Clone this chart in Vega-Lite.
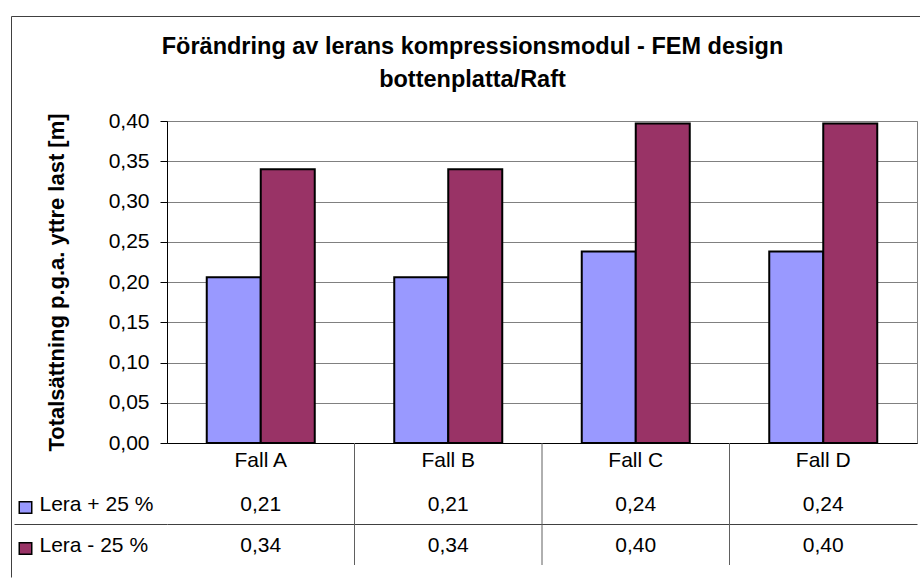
{
  "$schema": "https://vega.github.io/schema/vega-lite/v6.json",
  "background": "white",
  "padding": {"left": 10, "top": 15, "right": 0, "bottom": 0},
  "autosize": {"type": "pad"},
  "bounds": "flush",
  "spacing": 0,
  "title": {
    "text": ["Förändring av lerans kompressionsmodul - FEM design", "bottenplatta/Raft"],
    "fontSize": 23.5, "fontWeight": "bold", "font": "Liberation Sans", "color": "black",
    "lineHeight": 33, "anchor": "middle", "offset": -76, "dx": -71
  },
  "datasets": {
    "d": [
      {"cat": "Fall A", "series": "Lera + 25 %", "v": 0.206},
      {"cat": "Fall A", "series": "Lera - 25 %", "v": 0.34},
      {"cat": "Fall B", "series": "Lera + 25 %", "v": 0.206},
      {"cat": "Fall B", "series": "Lera - 25 %", "v": 0.34},
      {"cat": "Fall C", "series": "Lera + 25 %", "v": 0.238},
      {"cat": "Fall C", "series": "Lera - 25 %", "v": 0.397},
      {"cat": "Fall D", "series": "Lera + 25 %", "v": 0.238},
      {"cat": "Fall D", "series": "Lera - 25 %", "v": 0.397}
    ]
  },
  "vconcat": [
    {
      "width": 750,
      "height": 322,
      "view": {"stroke": "#808080", "strokeWidth": 1},
      "resolve": {"scale": {"x": "independent", "y": "independent"}, "axis": {"x": "independent", "y": "independent"}},
      "layer": [
        {
          "data": {"name": "d"},
          "mark": {"type": "bar", "stroke": "black", "strokeWidth": 2},
          "encoding": {
            "x": {
              "field": "cat", "type": "nominal", "sort": ["Fall A", "Fall B", "Fall C", "Fall D"],
              "scale": {"paddingInner": 0, "paddingOuter": 0},
              "axis": {"orient": "bottom", "labels": false, "ticks": false, "domain": true, "domainColor": "black", "domainWidth": 1, "title": null, "grid": false}
            },
            "xOffset": {
              "field": "series", "type": "nominal", "sort": ["Lera + 25 %", "Lera - 25 %"],
              "scale": {"paddingInner": 0, "paddingOuter": 0.736}
            },
            "y": {
              "field": "v", "type": "quantitative",
              "scale": {"domain": [0, 0.4], "nice": false, "zero": true},
              "axis": {
                "orient": "left",
                "values": [0, 0.05, 0.1, 0.15, 0.2, 0.25, 0.3, 0.35, 0.4],
                "format": ".2f",
                "grid": true, "gridColor": "#808080", "gridWidth": 1,
                "tickSize": 7, "tickColor": "black", "domainColor": "black",
                "labelFontSize": 21, "labelColor": "black", "labelPadding": 11,
                "title": "Totalsättning p.g.a. yttre last [m]",
                "titleFontSize": 22, "titleFontWeight": "bold", "titleColor": "black", "titlePadding": 40
              }
            },
            "color": {
              "field": "series", "type": "nominal",
              "scale": {"domain": ["Lera + 25 %", "Lera - 25 %"], "range": ["#9999FF", "#993366"]},
              "legend": null
            }
          }
        },
        {
          "data": {"name": "d"},
          "mark": {"type": "point", "opacity": 0},
          "encoding": {
            "x": {
              "field": "v", "type": "quantitative",
              "scale": {"domain": [0, 1], "range": [-156, 753], "nice": false, "zero": false},
              "axis": {"orient": "top", "offset": 105, "labels": false, "ticks": false, "grid": false, "title": null, "domainColor": "#404040", "domainWidth": 1}
            },
            "y": {
              "field": "v", "type": "quantitative",
              "scale": {"domain": [0, 1], "range": [456, -105], "nice": false, "zero": false},
              "axis": {"orient": "left", "offset": 156, "labels": false, "ticks": false, "grid": false, "title": null, "domainColor": "#404040", "domainWidth": 1}
            }
          }
        }
      ]
    },
    {
      "width": 750,
      "height": 122,
      "view": {"stroke": null},
      "data": {"name": "d"},
      "resolve": {"scale": {"y": "independent"}, "axis": {"y": "independent"}},
      "encoding": {
        "x": {
          "field": "cat", "type": "nominal", "sort": ["Fall A", "Fall B", "Fall C", "Fall D"],
          "scale": {"paddingInner": 0, "paddingOuter": 0},
          "axis": null
        }
      },
      "layer": [
        {
          "transform": [{"filter": "datum.series === 'Lera + 25 %' && datum.cat !== 'Fall A'"}],
          "mark": {"type": "rule", "color": "#606060", "strokeWidth": 1},
          "encoding": {
            "x": {
              "field": "cat", "type": "nominal", "sort": ["Fall A", "Fall B", "Fall C", "Fall D"],
              "bandPosition": 0,
              "scale": {"paddingInner": 0, "paddingOuter": 0},
              "axis": null
            }
          }
        },
        {
          "mark": {"type": "text", "fontSize": 21, "color": "black", "baseline": "middle", "align": "center", "dy": 1},
          "encoding": {
            "y": {
              "field": "series", "type": "nominal",
              "scale": {"type": "band", "domain": ["hdr", "Lera + 25 %", "Lera - 25 %"], "paddingInner": 0, "paddingOuter": 0},
              "axis": {
                "orient": "left", "labelAlign": "left", "labelBaseline": "middle", "labelPadding": 128,
                "ticks": false, "tickSize": 0, "domain": false, "grid": false, "title": null,
                "labelFontSize": 21, "labelColor": "black", "labelOffset": 1,
                "labelExpr": "datum.value === 'hdr' ? '' : datum.label"
              }
            },
            "text": {"field": "v", "type": "quantitative", "format": ".2f"}
          }
        },
        {
          "transform": [{"filter": "datum.series === 'Lera + 25 %'"}],
          "mark": {"type": "text", "fontSize": 21, "color": "black", "baseline": "middle", "align": "center", "dy": -2},
          "encoding": {
            "y": {
              "datum": "hdr", "type": "nominal",
              "scale": {"type": "band", "domain": ["hdr", "Lera + 25 %", "Lera - 25 %"], "paddingInner": 0, "paddingOuter": 0},
              "axis": {
                "orient": "left", "offset": 135, "ticks": true, "tickSize": 14, "tickWidth": 13, "tickOffset": 3,
                "tickColor": {"condition": {"test": "datum.value === 'hdr'", "value": "transparent"}, "value": "black"},
                "labels": false, "domain": false, "grid": false, "title": null
              }
            },
            "text": {"field": "cat", "type": "nominal"}
          }
        },
        {
          "mark": {"type": "text", "text": "", "opacity": 0},
          "encoding": {
            "y": {
              "field": "series", "type": "nominal",
              "scale": {"type": "band", "domain": ["hdr", "Lera + 25 %", "Lera - 25 %"], "paddingInner": 0, "paddingOuter": 0},
              "axis": {
                "orient": "left", "offset": 136.5, "ticks": true, "tickSize": 11, "tickWidth": 10, "tickOffset": 3,
                "tickColor": {"condition": [{"test": "datum.value === 'hdr'", "value": "transparent"}, {"test": "datum.value === 'Lera + 25 %'", "value": "#9999FF"}], "value": "#993366"},
                "labels": false, "domain": false, "grid": false, "title": null
              }
            }
          }
        },
        {
          "mark": {"type": "text", "text": "", "opacity": 0},
          "encoding": {
            "y": {
              "field": "series", "type": "nominal",
              "scale": {"type": "band", "domain": ["hdr", "Lera + 25 %", "Lera - 25 %"], "paddingInner": 0, "paddingOuter": 0},
              "axis": {
                "orient": "left", "offset": 0, "ticks": true, "tickSize": 153, "tickWidth": 1, "bandPosition": 0,
                "tickColor": {"condition": {"test": "datum.value === 'Lera - 25 %'", "value": "#404040"}, "value": "transparent"},
                "grid": true, "gridWidth": 1,
                "gridColor": {"condition": {"test": "datum.value === 'Lera - 25 %'", "value": "#404040"}, "value": "transparent"},
                "labels": false, "domain": false, "title": null
              }
            }
          }
        }
      ]
    }
  ],
  "config": {
    "font": "Liberation Sans",
    "locale": {"number": {"decimal": ",", "thousands": " ", "grouping": [3], "currency": ["", ""]}},
    "axis": {"labelFont": "Liberation Sans", "titleFont": "Liberation Sans"},
    "text": {"font": "Liberation Sans"}
  }
}
